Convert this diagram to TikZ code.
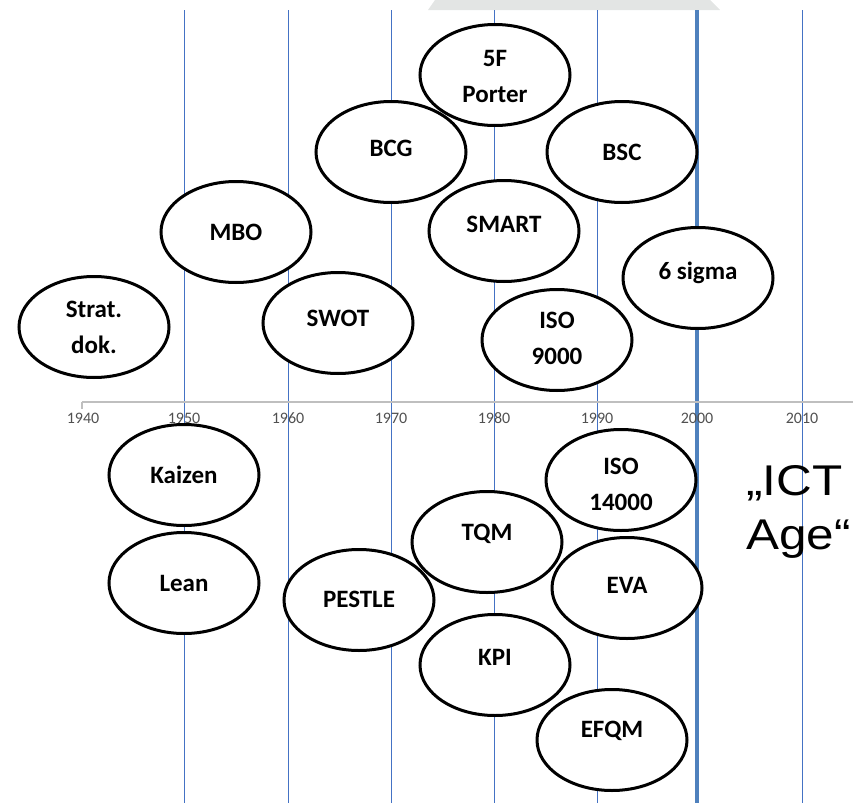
\documentclass[tikz,border=0pt]{standalone}
\usepackage{fontspec}
\usepackage{graphicx}
\usetikzlibrary{shapes.geometric}
\newfontfamily\lblfont{Carlito}
\newfontfamily\bigfont{Liberation Sans}
\definecolor{gridblue}{HTML}{4472C4}
\definecolor{milestone}{HTML}{4F81BD}
\definecolor{axisgray}{HTML}{BFBFBF}
\definecolor{yeargray}{HTML}{505050}
\definecolor{bandgray}{HTML}{E3E5E4}
\tikzset{
  grid line/.style={draw=gridblue, line width=1pt},
  key line/.style={draw=milestone, line width=4pt},
  topic/.style={ellipse, draw=black, line width=3pt, fill=white,
    minimum width=150pt, minimum height=101pt, inner sep=0pt},
  caption/.style={font=\lblfont\bfseries\fontsize{25}{36}\selectfont,
    align=center, inner sep=0pt},
  year/.style={font=\lblfont\fontsize{16}{19}\selectfont, text=yeargray, inner sep=0pt},
}
\begin{document}
\begin{tikzpicture}[x=1pt, y=-1pt]
\useasboundingbox (0,0) rectangle (860,803);
% light band along the top edge
\fill[bandgray] (435,0) -- (710,0) -- (720,10) -- (428,10) -- cycle;
% decade grid lines
\foreach \xx in {184,288,391,494,597,802}
  \draw[grid line] (\xx,10) -- (\xx,803);
\draw[key line] (697,10) -- (697,803);
% time axis
\draw[draw=axisgray, line width=1.5pt] (82,402) -- (853,402);
\draw[draw=axisgray, line width=1.5pt] (82,402) -- (82,409);
\foreach \xx/\yr in {83/1940,184/1950,288/1960,391/1970,494/1980,597/1990,697/2000,802/2010}
  \node[year] at (\xx,418) {\yr};
% topics above the axis
\node[topic] (porter) at (495,75) {};
\node[topic] (bcg) at (391,152) {};
\node[topic] (bsc) at (622,152) {};
\node[topic] (mbo) at (236,232) {};
\node[topic] (smart) at (504,231) {};
\node[topic] (sigma) at (698,278) {};
\node[topic] (strat) at (94,327) {};
\node[topic] (swot) at (338,323) {};
\node[topic] (iso9) at (557,340) {};
% topics below the axis
\node[topic] (kaizen) at (184,475) {};
\node[topic] (iso14) at (621,480) {};
\node[topic] (tqm) at (487,542) {};
\node[topic] (lean) at (184,583) {};
\node[topic] (eva) at (627,588) {};
\node[topic] (pestle) at (359,600) {};
\node[topic] (kpi) at (495,665) {};
\node[topic] (efqm) at (612,740) {};
% topic names
\node[caption] (porter-t) at ([yshift=-1pt]porter.center) {5F\\Porter};
\node[caption] (bcg-t) at ([yshift=4pt]bcg.center) {BCG};
\node[caption] (bsc-t) at ([yshift=0pt]bsc.center) {BSC};
\node[caption] (mbo-t) at ([yshift=0pt]mbo.center) {MBO};
\node[caption] (smart-t) at ([yshift=7pt]smart.center) {SMART};
\node[caption] (sigma-t) at ([yshift=5pt]sigma.center) {6 sigma};
\node[caption] (strat-t) at ([yshift=0pt]strat.center) {Strat.\\dok.};
\node[caption] (swot-t) at ([yshift=5pt]swot.center) {SWOT};
\node[caption] (iso9-t) at ([yshift=2pt]iso9.center) {ISO\\9000};
\node[caption] (kaizen-t) at ([yshift=0pt]kaizen.center) {Kaizen};
\node[caption] (iso14-t) at ([yshift=-4pt]iso14.center) {ISO\\14000};
\node[caption] (tqm-t) at ([yshift=8pt]tqm.center) {TQM};
\node[caption] (lean-t) at ([yshift=0pt]lean.center) {Lean};
\node[caption] (eva-t) at ([yshift=3pt]eva.center) {EVA};
\node[caption] (pestle-t) at ([yshift=1pt]pestle.center) {PESTLE};
\node[caption] (kpi-t) at ([yshift=8pt]kpi.center) {KPI};
\node[caption] (efqm-t) at ([yshift=9pt]efqm.center) {EFQM};
% era label
\node[font=\bigfont\fontsize{43}{54}\selectfont, align=left, anchor=west, inner sep=0pt]
  (ict) at (746,512) {\scalebox{1.15}[1]{„ICT}\\\scalebox{1.15}[1]{Age“}};
\end{tikzpicture}
\end{document}
